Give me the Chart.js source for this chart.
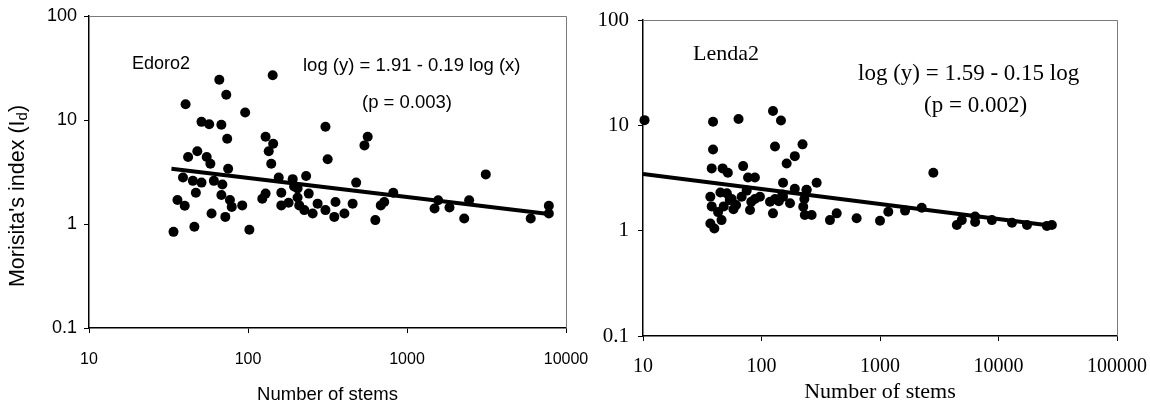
<!DOCTYPE html>
<html>
<head>
<meta charset="utf-8">
<script src="https://cdn.jsdelivr.net/npm/chart.js"></script>
<style>
html, body { margin: 0; padding: 0; background: #fff; }
#wrap { position: relative; width: 1150px; height: 409px; overflow: hidden; }
.box { position: absolute; top: 0; height: 409px; }
</style>
</head>
<body>
<div id="wrap">
  <div class="box" style="left:0;width:600px"><canvas id="edoro"></canvas></div>
  <div class="box" style="left:580px;width:570px"><canvas id="lenda"></canvas></div>
</div>
<script>
// Edoro2 plot - number of stems vs Morisita's index
var edoroStems = [143, 66, 73, 40.5, 96, 51, 57, 68, 74, 129, 144, 135, 140, 307, 317, 42, 48, 55, 58, 39,
  45, 51, 61, 69, 75, 156, 191, 232, 479, 36, 40, 47, 59, 72, 68, 77, 79, 92, 102, 46,
  34, 123, 129, 162, 162, 180, 205, 241, 226, 255, 274, 307, 349, 355, 404, 455, 210, 540, 566, 3130,
  820, 684, 719, 632, 1490, 1570, 1850, 2290, 2460, 6000, 7800, 7800, 195, 205];
var edoroIndex = [26.9, 24.4, 17.5, 14.2, 11.8, 9.6, 9.1, 9.0, 6.6, 6.9, 5.9, 5.0, 3.8, 8.6, 4.2, 4.4, 5.0, 4.4, 3.8, 2.8,
  2.6, 2.5, 2.6, 2.4, 3.4, 2.8, 2.7, 2.9, 2.5, 1.7, 1.5, 2.0, 1.26, 1.17, 1.9, 1.7, 1.46, 1.51, 0.88, 0.94,
  0.84, 1.75, 1.96, 2.0, 1.51, 1.6, 1.8, 1.96, 1.36, 1.26, 1.57, 1.36, 1.17, 1.63, 1.26, 1.57, 1.51, 5.7, 6.9, 3.0,
  2.0, 1.51, 1.63, 1.09, 1.41, 1.69, 1.44, 1.13, 1.69, 1.13, 1.5, 1.26, 2.3, 2.2];
var edoroFitStems = [33, 7800];
var edoroFitIndex = [3.4, 1.25];

// Lenda2 plot
var lendaStems = [10.3, 39, 64, 125, 146, 39, 130, 222, 191, 163, 38, 47, 52, 70, 77, 88, 152, 292, 191, 240,
  37, 38, 37, 40, 46, 43, 51, 54, 61, 68, 80, 82, 97, 118, 125, 152, 174, 225, 232, 265,
  240, 378, 431, 635, 1000, 1175, 1627, 2250, 2820, 4450, 4900, 6350, 6350, 8790, 13000, 17400, 25600, 28200,
  45, 48, 56, 58, 75, 88, 140, 150, 230, 130];
var lendaIndex = [11.2, 10.8, 11.5, 13.7, 11.1, 5.9, 6.3, 6.6, 5.1, 4.35, 3.9, 3.9, 3.55, 4.1, 3.2, 3.2, 2.85, 2.85, 2.5, 2.45,
  2.1, 1.7, 1.17, 1.05, 1.26, 1.5, 2.26, 1.95, 1.75, 2.1, 1.57, 1.88, 2.1, 1.88, 1.46, 2.1, 1.82, 1.69, 1.41, 1.41,
  2.43, 1.26, 1.46, 1.31, 1.24, 1.51, 1.55, 1.65, 3.55, 1.13, 1.26, 1.21, 1.36, 1.26, 1.19, 1.13, 1.11, 1.13,
  2.3, 1.7, 2.0, 1.6, 2.4, 2.0, 1.9, 2.2, 2.0, 2.0];
var lendaFitStems = [10, 27000];
var lendaFitIndex = [3.45, 1.12];

var edoroXTicks = [10, 100, 1000, 10000];
var edoroXLabels = ['10', '100', '1000', '10000'];
var lendaXTicks = [10, 100, 1000, 10000, 100000];
var lendaXLabels = ['10', '100', '1000', '10000', '100000'];
var yTicks = [0.1, 1, 10, 100];
var yLabels = ['0.1', '1', '10', '100'];

function pairs(xs, ys) {
  return xs.map(function (x, i) { return { x: x, y: ys[i] }; });
}

// top and right frame lines
var framePlugin = {
  id: 'frame',
  afterDraw: function (chart) {
    var a = chart.chartArea, ctx = chart.ctx;
    ctx.save();
    ctx.strokeStyle = '#7a7a7a';
    ctx.lineWidth = 1;
    ctx.beginPath();
    ctx.moveTo(a.left, a.top + 0.5);
    ctx.lineTo(a.right + 0.5, a.top + 0.5);
    ctx.lineTo(a.right + 0.5, a.bottom);
    ctx.stroke();
    ctx.restore();
  }
};

// free text on the plots
var notesPlugin = {
  id: 'notes',
  afterDraw: function (chart, args, opts) {
    var ctx = chart.ctx;
    ctx.save();
    ctx.fillStyle = '#000';
    ctx.textBaseline = 'middle';
    ctx.textAlign = 'left';
    opts.items.forEach(function (t) {
      ctx.font = t.font;
      ctx.fillText(t.text, t.x, t.y);
    });
    if (opts.yTitle) {
      var yt = opts.yTitle;
      ctx.translate(yt.x, yt.y);
      ctx.rotate(-Math.PI / 2);
      ctx.font = yt.size + 'px ' + yt.family;
      var w1 = ctx.measureText(yt.main).width;
      var w3 = ctx.measureText(yt.tail).width;
      ctx.font = Math.round(yt.size * 0.7) + 'px ' + yt.family;
      var w2 = ctx.measureText(yt.sub).width;
      var x0 = -(w1 + w2 + w3) / 2;
      ctx.font = yt.size + 'px ' + yt.family;
      ctx.fillText(yt.main, x0, 0);
      ctx.font = Math.round(yt.size * 0.7) + 'px ' + yt.family;
      ctx.fillText(yt.sub, x0 + w1, 5);
      ctx.font = yt.size + 'px ' + yt.family;
      ctx.fillText(yt.tail, x0 + w1 + w2, 0);
    }
    ctx.restore();
  }
};

function makeChart(id, s) {
  return new Chart(document.getElementById(id), {
    type: 'scatter',
    data: {
      datasets: [{
        data: pairs(s.stems, s.index),
        backgroundColor: '#000',
        borderColor: '#000',
        pointRadius: 5,
        pointBorderWidth: 0,
        clip: false
      }, {
        type: 'line',
        data: pairs(s.fitStems, s.fitIndex),
        borderColor: '#000',
        borderWidth: 4,
        pointRadius: 0,
        fill: false
      }]
    },
    options: {
      responsive: true,
      maintainAspectRatio: false,
      animation: false,
      layout: { padding: { left: 0, top: s.top, right: s.right, bottom: 0 } },
      plugins: {
        legend: { display: false },
        tooltip: { enabled: false },
        notes: { items: s.notes, yTitle: s.yTitle }
      },
      scales: {
        x: {
          type: 'logarithmic',
          min: s.xTicks[0],
          max: s.xTicks[s.xTicks.length - 1],
          afterBuildTicks: function (ax) { ax.ticks = s.xTicks.map(function (v) { return { value: v }; }); },
          afterFit: function (ax) { ax.height = s.xHeight; ax.paddingLeft = 0; ax.paddingRight = 0; },
          grid: { drawOnChartArea: false, tickLength: s.tickLen, color: '#000' },
          border: { display: true, color: '#000', width: 1.5 },
          ticks: {
            autoSkip: false, maxRotation: 0, color: '#000', padding: s.xPad,
            font: { family: s.family, size: s.xFont },
            callback: function (v, i) { return s.xLabels[i]; }
          },
          title: {
            display: true, text: 'Number of stems', color: '#000',
            font: { family: s.family, size: s.titleFont },
            padding: { top: 0, bottom: s.titlePad }
          }
        },
        y: {
          type: 'logarithmic',
          min: 0.1,
          max: 100,
          afterBuildTicks: function (ax) { ax.ticks = yTicks.map(function (v) { return { value: v }; }); },
          afterFit: function (ax) { ax.width = s.yWidth; ax.paddingTop = 0; ax.paddingBottom = 0; },
          grid: { drawOnChartArea: false, tickLength: s.tickLen, color: '#000' },
          border: { display: true, color: '#000', width: 1.5 },
          ticks: {
            autoSkip: false, color: '#000', padding: s.yPad,
            font: { family: s.family, size: s.yFont },
            callback: function (v, i) { return yLabels[i]; }
          }
        }
      }
    },
    plugins: [framePlugin, notesPlugin]
  });
}

var sans = '"Liberation Sans", Arial, sans-serif';
var serif = '"Liberation Serif", "Times New Roman", serif';

makeChart('edoro', {
  stems: edoroStems, index: edoroIndex, fitStems: edoroFitStems, fitIndex: edoroFitIndex,
  xTicks: edoroXTicks, xLabels: edoroXLabels,
  family: sans, xFont: 16, yFont: 18, titleFont: 18.5, titlePad: 3,
  top: 16, right: 34, yWidth: 89, xHeight: 81, tickLen: 5, xPad: 17, yPad: 7,
  notes: [
    { text: 'Edoro2', x: 132, y: 64, font: '18px ' + sans },
    { text: 'log (y) = 1.91 - 0.19 log (x)', x: 303, y: 66, font: '18.5px ' + sans },
    { text: '(p = 0.003)', x: 362, y: 103, font: '18.5px ' + sans }
  ],
  yTitle: { x: 18, y: 196, size: 21.5, family: sans, main: "Morisita's index (I", sub: 'd', tail: ')' }
});

makeChart('lenda', {
  stems: lendaStems, index: lendaIndex, fitStems: lendaFitStems, fitIndex: lendaFitIndex,
  xTicks: lendaXTicks, xLabels: lendaXLabels,
  family: serif, xFont: 20, yFont: 21, titleFont: 22, titlePad: 4,
  top: 20, right: 33, yWidth: 63, xHeight: 73, tickLen: 5, xPad: 14, yPad: 9,
  notes: [
    { text: 'Lenda2', x: 113, y: 54, font: '22px ' + serif },
    { text: 'log (y) = 1.59 - 0.15 log', x: 278, y: 74, font: '23px ' + serif },
    { text: '(p = 0.002)', x: 344, y: 106, font: '23px ' + serif }
  ]
});
</script>
</body>
</html>
